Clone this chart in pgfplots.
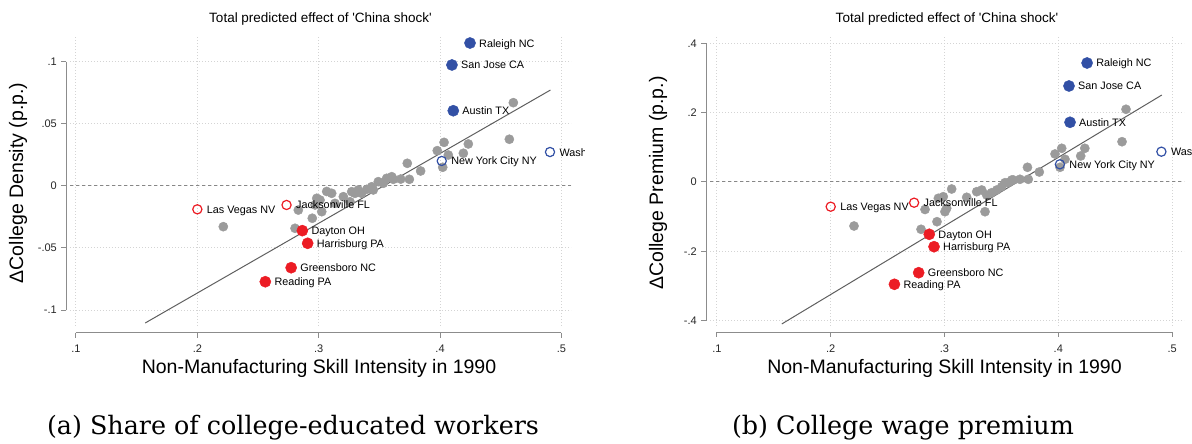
\documentclass[border=0pt]{standalone}
\usepackage{pgfplots}
\pgfplotsset{compat=1.18}
\usepackage{fontspec}
\newfontfamily\arial{Liberation Sans}
\newfontfamily\capfont{DejaVu Serif}
\definecolor{gridc}{RGB}{212,212,212}
\definecolor{zeroc}{RGB}{135,135,135}
\definecolor{axisc}{RGB}{140,140,140}
\definecolor{dotg}{RGB}{155,155,155}
\definecolor{navyc}{RGB}{50,80,165}
\definecolor{redc}{RGB}{236,28,36}
\definecolor{fitc}{RGB}{95,95,95}
\pgfplotsset{
  china/.style={
    scale only axis, clip=false,
    axis line style={draw=none},
    tick style={draw=none}, major tick length=0pt,
    grid=major,
    major grid style={color=gridc, line width=1pt, dash pattern=on 1pt off 2pt},
    xtick={0.1,0.2,0.3,0.4,0.5},
    xticklabels={.1,.2,.3,.4,.5},
    xticklabel style={anchor=center, yshift=-23pt, inner sep=0pt, font=\arial\fontsize{11}{13}\selectfont, text=black!85},
    yticklabel style={anchor=east, xshift=-13pt, inner sep=0pt, font=\arial\fontsize{11}{13}\selectfont, text=black!85},
    title style={at={(axis description cs:0.5,1)}, anchor=center, yshift=12pt, font=\arial\fontsize{13.5}{15}\selectfont},
    title={Total predicted effect of \textquotesingle China shock\textquotesingle},
    xlabel={Non-Manufacturing Skill Intensity in 1990},
  },
  gray dots/.style={dotg, only marks, mark=*, mark size=4.6pt, mark options={draw=none, fill=dotg}},
  named/.style={only marks, nodes near coords, point meta=explicit symbolic,
      every node near coord/.style={anchor=base west, xshift=9pt, yshift=-4pt, inner sep=0pt, text=black, font=\arial\fontsize{10.8}{12}\selectfont}},
  filled/.style={#1, named, mark=*, mark size=5.6pt, mark options={draw=none, fill=#1}},
  hollow/.style={#1, named, mark=o, mark size=4.6pt, mark options={draw=#1, line width=1.2pt, fill=none}},
}
\begin{document}
\begin{tikzpicture}
\useasboundingbox (0,0) rectangle (1192pt,444pt);
\clip (0,0) rectangle (1192pt,444pt);
\begin{scope}
\clip (0,0) rectangle (584pt,444pt);
\begin{axis}[china, at={(70pt,118pt)}, anchor=south west, width=501pt, height=289pt,
  xmin=0.09506, xmax=0.50791, ymin=-0.1129, ymax=0.12016,
  ytick={-0.1,-0.05,0,0.05,0.1}, yticklabels={-.1,-.05,0,.05,.1},
  every axis x label/.style={at={(axis description cs:0.497,0)}, anchor=center, yshift=-42pt, font=\arial\fontsize{19.5}{22}\selectfont},
  every axis y label/.style={at={(axis description cs:-0.1038,0.4948)}, rotate=90, anchor=center, font=\arial\fontsize{19.5}{22}\selectfont},
  ylabel={ΔCollege Density (p.p.)}]
\draw[zeroc, line width=1pt, dash pattern=on 3pt off 3pt] (axis cs:0.09506,0) -- (axis cs:0.50791,0);
\addplot[gray dots] coordinates {
(0.2214,-0.0328) (0.2805,-0.0341) (0.2832,-0.0194) (0.2947,-0.0260) (0.2970,-0.0153)
(0.2984,-0.0099) (0.3011,-0.0113) (0.3025,-0.0207) (0.3066,-0.0044) (0.3107,-0.0059)
(0.3134,-0.0140) (0.3203,-0.0086) (0.3258,-0.0127) (0.3272,-0.0046) (0.3299,-0.0059)
(0.3326,-0.0032) (0.3354,-0.0059) (0.3396,-0.0027) (0.3437,-0.0006) (0.3450,-0.0032)
(0.3491,0.0035) (0.3532,0.0022) (0.3560,0.0062) (0.3602,0.0075) (0.3615,0.0054)
(0.3676,0.0056) (0.3747,0.0054) (0.3730,0.0183) (0.3840,0.0121) (0.3977,0.0285)
(0.4033,0.0352) (0.4022,0.0151) (0.4068,0.0250) (0.4192,0.0264) (0.4233,0.0339)
(0.4571,0.0377) (0.4604,0.0672)};
\addplot[hollow=navyc] coordinates {(0.4906,0.0274) [Washington DC] (0.4014,0.0202) [New York City NY]};
\addplot[hollow=redc] coordinates {(0.2000,-0.0188) [Las Vegas NV] (0.2735,-0.0153) [Jacksonville FL]};
\addplot[filled=navyc] coordinates {(0.4247,0.1153) [Raleigh NC] (0.4098,0.0976) [San Jose CA] (0.4109,0.0607) [Austin TX]};
\addplot[filled=redc] coordinates {(0.2865,-0.0360) [Dayton OH] (0.2909,-0.0462) [Harrisburg PA] (0.2773,-0.0659) [Greensboro NC] (0.2560,-0.0772) [Reading PA]};
\addplot[fitc, line width=1pt] coordinates {(0.157,-0.1105) (0.491,0.0774)};
\draw[axisc, line width=1pt] (axis cs:0.09217,-0.1) -- (axis cs:0.09217,0.1);
\draw[axisc, line width=1pt] (axis cs:0.09217,-0.1) -- ++(-5pt,0pt);
\draw[axisc, line width=1pt] (axis cs:0.09217,-0.05) -- ++(-5pt,0pt);
\draw[axisc, line width=1pt] (axis cs:0.09217,0) -- ++(-5pt,0pt);
\draw[axisc, line width=1pt] (axis cs:0.09217,0.05) -- ++(-5pt,0pt);
\draw[axisc, line width=1pt] (axis cs:0.09217,0.1) -- ++(-5pt,0pt);
\draw[axisc, line width=1pt] (axis cs:0.1,-0.11815) -- (axis cs:0.5,-0.11815);
\draw[axisc, line width=1pt] (axis cs:0.1,-0.11815) -- ++(0pt,-5pt);
\draw[axisc, line width=1pt] (axis cs:0.2,-0.11815) -- ++(0pt,-5pt);
\draw[axisc, line width=1pt] (axis cs:0.3,-0.11815) -- ++(0pt,-5pt);
\draw[axisc, line width=1pt] (axis cs:0.4,-0.11815) -- ++(0pt,-5pt);
\draw[axisc, line width=1pt] (axis cs:0.5,-0.11815) -- ++(0pt,-5pt);
\end{axis}
\end{scope}
\begin{axis}[china, at={(710pt,118pt)}, anchor=south west, width=474pt, height=289pt,
  xmin=0.09394, xmax=0.51046, ymin=-0.41528, ymax=0.41817,
  ytick={-0.4,-0.2,0,0.2,0.4}, yticklabels={-.4,-.2,0,.2,.4},
  every axis x label/.style={at={(axis description cs:0.4947,0)}, anchor=center, yshift=-42pt, font=\arial\fontsize{19.5}{22}\selectfont},
  every axis y label/.style={at={(axis description cs:-0.1097,0.4948)}, rotate=90, anchor=center, font=\arial\fontsize{19.5}{22}\selectfont},
  ylabel={ΔCollege Premium (p.p.)}]
\draw[zeroc, line width=1pt, dash pattern=on 3pt off 3pt] (axis cs:0.09394,0) -- (axis cs:0.51046,0);
\addplot[gray dots] coordinates {
(0.2205,-0.1269) (0.2794,-0.1364) (0.2829,-0.0793) (0.2934,-0.1145) (0.2946,-0.0470)
(0.2989,-0.0424) (0.3004,-0.0857) (0.3019,-0.0758) (0.3063,-0.0202) (0.3195,-0.0441)
(0.3283,-0.0280) (0.3327,-0.0231) (0.3356,-0.0857) (0.3371,-0.0375) (0.3415,-0.0309)
(0.3459,-0.0231) (0.3503,-0.0136) (0.3532,-0.0020) (0.3561,-0.0020) (0.3591,0.0058)
(0.3605,0.0058) (0.3663,0.0078) (0.3736,0.0078) (0.3729,0.0424) (0.3833,0.0288)
(0.3971,0.0808) (0.4030,0.0972) (0.4015,0.0424) (0.4059,0.0655) (0.4197,0.0750)
(0.4233,0.0972) (0.4560,0.1162) (0.4595,0.2097)};
\addplot[hollow=navyc] coordinates {(0.4906,0.0874) [Washington DC] (0.4014,0.0510) [New York City NY]};
\addplot[hollow=redc] coordinates {(0.2000,-0.0712) [Las Vegas NV] (0.2733,-0.0597) [Jacksonville FL]};
\addplot[filled=navyc] coordinates {(0.4253,0.3432) [Raleigh NC] (0.4094,0.2769) [San Jose CA] (0.4103,0.1722) [Austin TX]};
\addplot[filled=redc] coordinates {(0.2866,-0.1508) [Dayton OH] (0.2908,-0.1866) [Harrisburg PA] (0.2773,-0.2616) [Greensboro NC] (0.2560,-0.2950) [Reading PA]};
\addplot[fitc, line width=1pt] coordinates {(0.157,-0.4095) (0.491,0.2509)};
\draw[axisc, line width=1pt] (axis cs:0.09077,-0.4) -- (axis cs:0.09077,0.4);
\draw[axisc, line width=1pt] (axis cs:0.09077,-0.4) -- ++(-5pt,0pt);
\draw[axisc, line width=1pt] (axis cs:0.09077,-0.2) -- ++(-5pt,0pt);
\draw[axisc, line width=1pt] (axis cs:0.09077,0) -- ++(-5pt,0pt);
\draw[axisc, line width=1pt] (axis cs:0.09077,0.2) -- ++(-5pt,0pt);
\draw[axisc, line width=1pt] (axis cs:0.09077,0.4) -- ++(-5pt,0pt);
\draw[axisc, line width=1pt] (axis cs:0.1,-0.43403) -- (axis cs:0.5,-0.43403);
\draw[axisc, line width=1pt] (axis cs:0.1,-0.43403) -- ++(0pt,-5pt);
\draw[axisc, line width=1pt] (axis cs:0.2,-0.43403) -- ++(0pt,-5pt);
\draw[axisc, line width=1pt] (axis cs:0.3,-0.43403) -- ++(0pt,-5pt);
\draw[axisc, line width=1pt] (axis cs:0.4,-0.43403) -- ++(0pt,-5pt);
\draw[axisc, line width=1pt] (axis cs:0.5,-0.43403) -- ++(0pt,-5pt);
\end{axis}
\node[anchor=base, font=\capfont\fontsize{25.4}{30}\selectfont] at (293pt,9pt) {(a) Share of college-educated workers};
\node[anchor=base, font=\capfont\fontsize{25.4}{30}\selectfont] at (903pt,9pt) {(b) College wage premium};
\end{tikzpicture}
\end{document}
